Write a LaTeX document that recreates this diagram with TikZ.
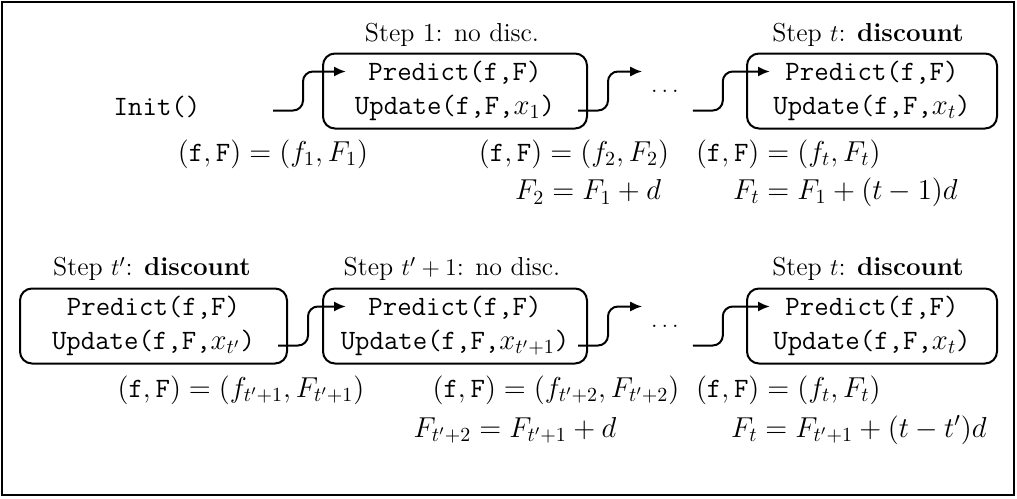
\documentclass[tikz,border=0pt]{standalone}
\usepackage{fontspec}
\usetikzlibrary{calc,arrows.meta}
\newcommand{\ttv}[1]{\mbox{\fontsize{14}{14}\selectfont\ttfamily #1}}
\tikzset{
  every path/.style={
    black,
    line width=1pt
  },
  stepbox/.style={
    draw, rounded corners=6pt, align=center, inner sep=0pt,
    minimum height=37.5pt,
    font=\fontsize{14}{17}\selectfont\ttfamily
  },
  steptitle/.style={font=\fontsize{13}{15}\selectfont, inner sep=0pt},
  steplabel/.style={font=\fontsize{14}{16}\selectfont, inner sep=0pt},
  flow/.style={-{Latex[length=6pt,width=5pt]}, rounded corners=5pt}
}

\begin{document}
\begin{tikzpicture}[x=0.5pt,y=-0.5pt]
    \useasboundingbox (0,0) rectangle (1017,498);
    \draw[line width=0.6pt] (2,2) rectangle (1014,495);

    % erste Reihe: Init, Schritt 1, ..., Schritt t
    \node[steptitle] (h1) at (452,35) {Step 1: no disc.};
    \node[steptitle] (h2) at (868,35) {Step $t$: \textbf{discount}};
    \node[font=\fontsize{14}{15}\selectfont\ttfamily] (init) at (157,107) {Init()};
    \node[stepbox, minimum width=132pt] (b1) at (455,91)
        {Predict(f,F)\\Update(f,F,$x_1$)};
    \node[steptitle] (d1) at (665,91) {$\dots$};
    \node[stepbox, minimum width=125pt] (b2) at (872,91)
        {Predict(f,F)\\Update(f,F,$x_t$)};

    \coordinate (s0) at ($(b1.west)+(-49,19.5)$);
    \coordinate (e0) at ($(b1.west)+(24,-19.5)$);
    \coordinate (s1) at ($(b1.east)+(-10,19.5)$);
    \coordinate (e1) at ($(d1.west)+(-8,-19.5)$);
    \coordinate (s2) at ($(d1.east)+(13,19.5)$);
    \coordinate (e2) at ($(b2.west)+(24,-19.5)$);
    \draw[flow] (s0) -| ++(30,-19.5) |- (e0);
    \draw[flow] (s1) -| ++(30,-19.5) |- (e1);
    \draw[flow] (s2) -| ++(30,-19.5) |- (e2);

    \node[steplabel] (l1) at (273,154) {$(\ttv{f},\ttv{F})=(f_1,F_1)$};
    \node[steplabel] (l2) at (574,154) {$(\ttv{f},\ttv{F})=(f_2,F_2)$};
    \node[steplabel, anchor=west] (l3) at (695,154) {$(\ttv{f},\ttv{F})=(f_t,F_t)$};
    \node[steplabel] (l4) at (588,192) {$F_2=F_1+d$};
    \node[steplabel, anchor=west] (l5) at (732,192) {$F_t=F_1+(t-1)d$};

    % zweite Reihe: Schritt t', t'+1, ..., t
    \node[steptitle] (h3) at (152,269) {Step $t'$: \textbf{discount}};
    \node[steptitle] (h4) at (452,269) {Step $t'+1$: no disc.};
    \node[steptitle] (h5) at (868,269) {Step $t$: \textbf{discount}};
    \node[stepbox, minimum width=133.5pt] (b3) at (153.5,326)
        {Predict(f,F)\\Update(f,F,$x_{t'}$)};
    \node[stepbox, minimum width=132pt] (b4) at (455,326)
        {Predict(f,F)\\Update(f,F,$x_{t'+1}$)};
    \node[steptitle] (d2) at (665,326) {$\dots$};
    \node[stepbox, minimum width=125pt] (b5) at (872,326)
        {Predict(f,F)\\Update(f,F,$x_t$)};

    \coordinate (s3) at ($(b3.east)+(-10,19.5)$);
    \coordinate (e3) at ($(b4.west)+(24,-19.5)$);
    \coordinate (s4) at ($(b4.east)+(-10,19.5)$);
    \coordinate (e4) at ($(d2.west)+(-8,-19.5)$);
    \coordinate (s5) at ($(d2.east)+(13,19.5)$);
    \coordinate (e5) at ($(b5.west)+(24,-19.5)$);
    \draw[flow] (s3) -| ++(30,-19.5) |- (e3);
    \draw[flow] (s4) -| ++(30,-19.5) |- (e4);
    \draw[flow] (s5) -| ++(30,-19.5) |- (e5);

    \node[steplabel] (l6) at (241,390) {$(\ttv{f},\ttv{F})=(f_{t'+1},F_{t'+1})$};
    \node[steplabel] (l7) at (556,390) {$(\ttv{f},\ttv{F})=(f_{t'+2},F_{t'+2})$};
    \node[steplabel, anchor=west] (l8) at (695,390) {$(\ttv{f},\ttv{F})=(f_t,F_t)$};
    \node[steplabel] (l9) at (515,430) {$F_{t'+2}=F_{t'+1}+d$};
    \node[steplabel, anchor=west] (l10) at (730,430) {$F_t=F_{t'+1}+(t-t')d$};
\end{tikzpicture}
\end{document}
